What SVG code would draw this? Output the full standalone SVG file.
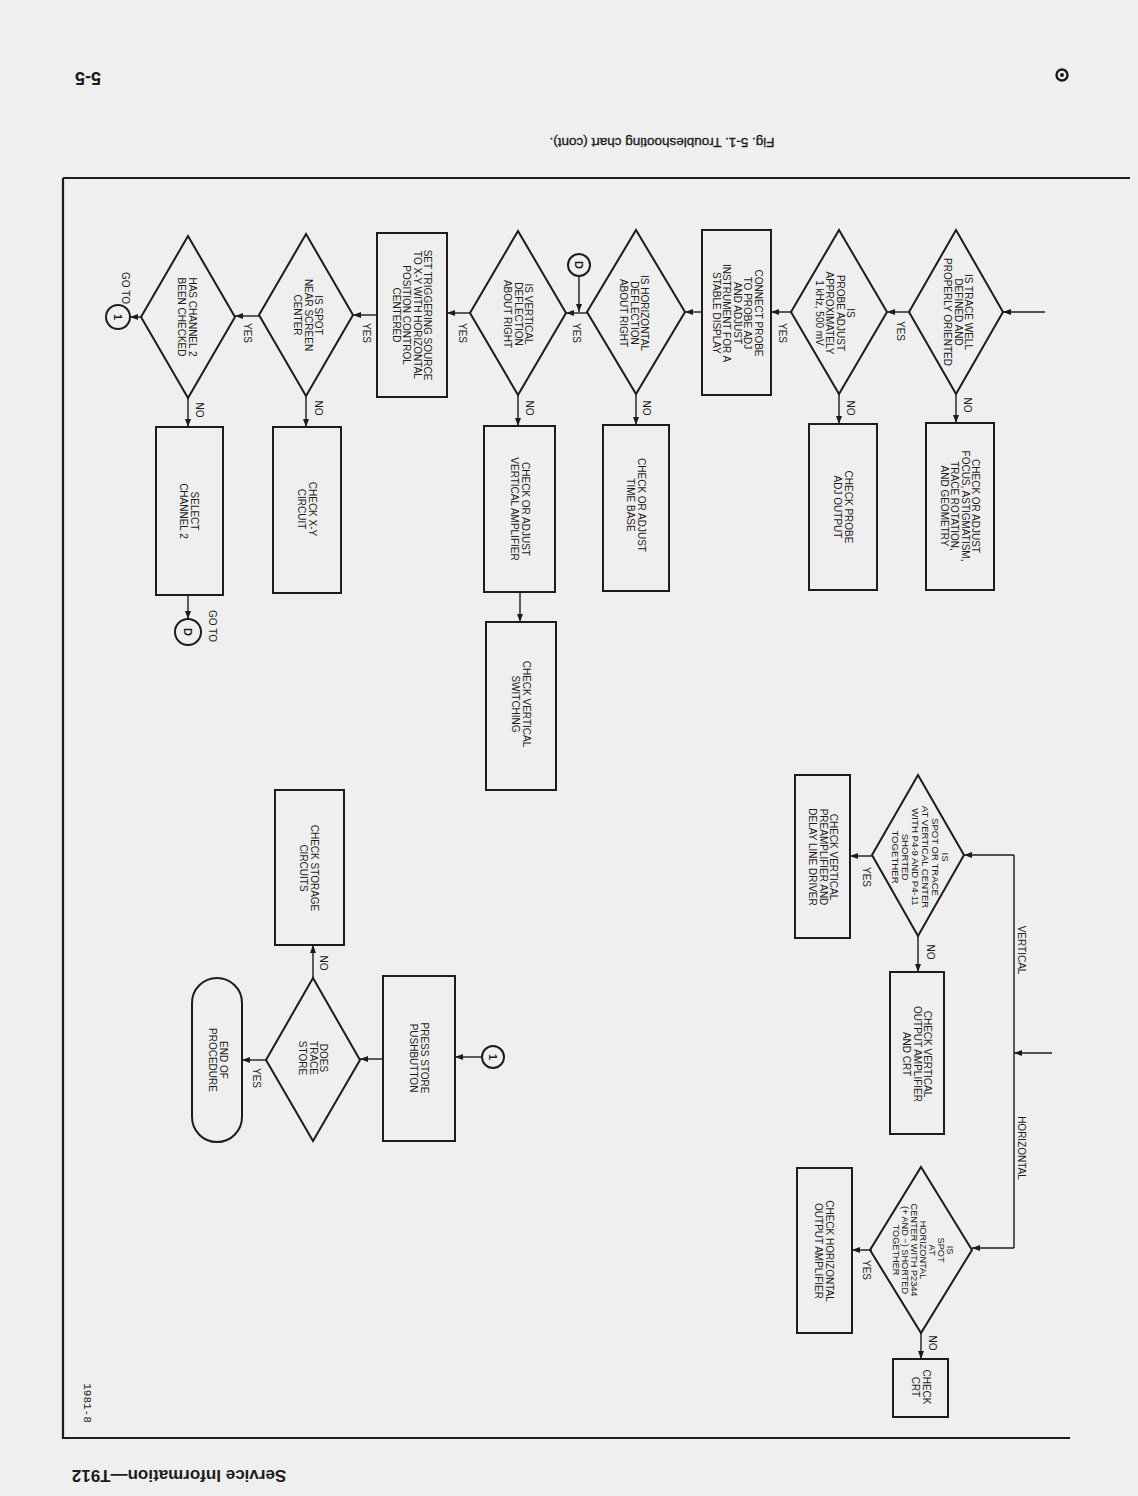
<svg xmlns="http://www.w3.org/2000/svg" width="1138" height="1496" viewBox="0 0 1138 1496">
<defs>
<style>
.s{fill:none;stroke:#1c1c1c;stroke-width:2}
.c{fill:none;stroke:#1c1c1c;stroke-width:1.4}
.t{font-family:"Liberation Sans",Arial,sans-serif;font-size:10px;fill:#1c1c1c;text-anchor:middle}
.l{font-family:"Liberation Sans",Arial,sans-serif;font-size:10px;fill:#1c1c1c;text-anchor:middle}
</style>
<marker id="a" markerWidth="8" markerHeight="6" refX="8" refY="3" orient="auto" markerUnits="userSpaceOnUse">
<path d="M0,0 L8,3 L0,6 z" fill="#1c1c1c"/>
</marker>
</defs>
<rect x="0" y="0" width="1138" height="1496" fill="#efefef"/>

<g id="page">
<path d="M63,178 L1130,178 M63,178 L63,1438 L1070,1438" fill="none" stroke="#1c1c1c" stroke-width="2.2"/>
<g transform="translate(88,78) rotate(180)"><text x="0" y="6" style="font-family:'Liberation Sans',Arial,sans-serif;font-size:18px;font-weight:bold;fill:#1c1c1c;text-anchor:middle">5-5</text></g>
<g transform="translate(662,143) rotate(180)"><text x="0" y="5" style="font-family:'Liberation Sans',Arial,sans-serif;font-size:13.5px;fill:#1c1c1c;text-anchor:middle;stroke:#1c1c1c;stroke-width:0.35">Fig. 5-1.  Troubleshooting chart (cont).</text></g>
<g transform="translate(179,1476) rotate(180)"><text x="0" y="6" style="font-family:'Liberation Sans',Arial,sans-serif;font-size:17px;font-weight:bold;fill:#1c1c1c;text-anchor:middle">Service Information—T912</text></g>
<g transform="translate(88,1403) rotate(90)"><text x="0" y="4" style="font-family:'Liberation Mono','Courier New',monospace;font-size:11px;fill:#1c1c1c;text-anchor:middle">1981-8</text></g>
<circle cx="1062" cy="75" r="5.5" fill="none" stroke="#1c1c1c" stroke-width="2.4"/>
<circle cx="1062" cy="75" r="2" fill="#1c1c1c"/>
</g>

<g id="connectors">
<path class="c" d="M1045,312 L1003,312" marker-end="url(#a)"/>
<path class="c" d="M956,394 L956,423" marker-end="url(#a)"/>
<path class="c" d="M909,312 L887,312" marker-end="url(#a)"/>
<path class="c" d="M839,394 L839,424" marker-end="url(#a)"/>
<path class="c" d="M791,312 L771,312" marker-end="url(#a)"/>
<path class="c" d="M702,312 L685,312" marker-end="url(#a)"/>
<path class="c" d="M636,394 L636,425" marker-end="url(#a)"/>
<path class="c" d="M587,313 L566,313" marker-end="url(#a)"/>
<path class="c" d="M579,276 L579,312" marker-end="url(#a)"/>
<path class="c" d="M518,395 L518,426" marker-end="url(#a)"/>
<path class="c" d="M520,592 L520,622" marker-end="url(#a)"/>
<path class="c" d="M470,313 L447,313" marker-end="url(#a)"/>
<path class="c" d="M377,315 L353,315" marker-end="url(#a)"/>
<path class="c" d="M306,396 L306,427" marker-end="url(#a)"/>
<path class="c" d="M259,316 L235,316" marker-end="url(#a)"/>
<path class="c" d="M188,398 L188,427" marker-end="url(#a)"/>
<path class="c" d="M188,595 L188,619" marker-end="url(#a)"/>
<path class="c" d="M141,317 L130,317" marker-end="url(#a)"/>
<path class="c" d="M1052,1053 L1014,1053" marker-end="url(#a)"/>
<path class="c" d="M1014,855 L1014,1248"/>
<path class="c" d="M1014,855 L964,855" marker-end="url(#a)"/>
<path class="c" d="M1014,1248 L972,1248" marker-end="url(#a)"/>
<path class="c" d="M872,856 L850,856" marker-end="url(#a)"/>
<path class="c" d="M918,936 L918,972" marker-end="url(#a)"/>
<path class="c" d="M872,1250 L852,1250" marker-end="url(#a)"/>
<path class="c" d="M921,1332 L921,1359" marker-end="url(#a)"/>
<path class="c" d="M482,1057 L455,1057" marker-end="url(#a)"/>
<path class="c" d="M383,1059 L360,1059" marker-end="url(#a)"/>
<path class="c" d="M313,978 L313,945" marker-end="url(#a)"/>
<path class="c" d="M266,1060 L242,1060" marker-end="url(#a)"/>
<g transform="translate(900,331) rotate(90)"><text class="l" y="3.5">YES</text></g>
<g transform="translate(782,333) rotate(90)"><text class="l" y="3.5">YES</text></g>
<g transform="translate(576,333) rotate(90)"><text class="l" y="3.5">YES</text></g>
<g transform="translate(462,333) rotate(90)"><text class="l" y="3.5">YES</text></g>
<g transform="translate(366,333) rotate(90)"><text class="l" y="3.5">YES</text></g>
<g transform="translate(247,333) rotate(90)"><text class="l" y="3.5">YES</text></g>
<g transform="translate(866,877) rotate(90)"><text class="l" y="3.5">YES</text></g>
<g transform="translate(866,1270) rotate(90)"><text class="l" y="3.5">YES</text></g>
<g transform="translate(256,1078) rotate(90)"><text class="l" y="3.5">YES</text></g>
<g transform="translate(967,405) rotate(90)"><text class="l" y="3.5">NO</text></g>
<g transform="translate(850,408) rotate(90)"><text class="l" y="3.5">NO</text></g>
<g transform="translate(646,408) rotate(90)"><text class="l" y="3.5">NO</text></g>
<g transform="translate(529,408) rotate(90)"><text class="l" y="3.5">NO</text></g>
<g transform="translate(318,408) rotate(90)"><text class="l" y="3.5">NO</text></g>
<g transform="translate(199,410) rotate(90)"><text class="l" y="3.5">NO</text></g>
<g transform="translate(930,952) rotate(90)"><text class="l" y="3.5">NO</text></g>
<g transform="translate(932,1343) rotate(90)"><text class="l" y="3.5">NO</text></g>
<g transform="translate(323,963) rotate(90)"><text class="l" y="3.5">NO</text></g>
<g transform="translate(1021,950) rotate(90)"><text class="l" y="3.5">VERTICAL</text></g>
<g transform="translate(1021,1148) rotate(90)"><text class="l" y="3.5">HORIZONTAL</text></g>
</g>

<g id="d1">
<polygon class="s" points="956,230 1003,312 956,394 909,312"/>
<g transform="translate(958,312) rotate(90)"><text class="t"><tspan x="0" y="-7">IS TRACE WELL</tspan><tspan x="0" y="3.5">DEFINED AND</tspan><tspan x="0" y="14">PROPERLY ORIENTED</tspan></text></g>
</g>
<g id="b1">
<rect class="s" x="926" y="423" width="68" height="167"/>
<g transform="translate(960,506) rotate(90)"><text class="t"><tspan x="0" y="-12.25">CHECK OR ADJUST</tspan><tspan x="0" y="-1.75">FOCUS, ASTIGMATISM,</tspan><tspan x="0" y="8.75">TRACE ROTATION,</tspan><tspan x="0" y="19.25">AND GEOMETRY</tspan></text></g>
</g>
<g id="d2">
<polygon class="s" points="839,230 887,312 839,394 791,312"/>
<g transform="translate(835,313) rotate(90)"><text class="t"><tspan x="0" y="-12.25">IS</tspan><tspan x="0" y="-1.75">PROBE ADJUST</tspan><tspan x="0" y="8.75">APPROXIMATELY</tspan><tspan x="0" y="19.25">1 kHz, 500 mV</tspan></text></g>
</g>
<g id="b2">
<rect class="s" x="809" y="424" width="68" height="166"/>
<g transform="translate(843,507) rotate(90)"><text class="t"><tspan x="0" y="-1.75">CHECK PROBE</tspan><tspan x="0" y="8.75">ADJ OUTPUT</tspan></text></g>
</g>
<g id="b3">
<rect class="s" x="702" y="230" width="69" height="165"/>
<g transform="translate(737,313) rotate(90)"><text class="t"><tspan x="0" y="-17.5">CONNECT PROBE</tspan><tspan x="0" y="-7">TO PROBE ADJ</tspan><tspan x="0" y="3.5">AND ADJUST</tspan><tspan x="0" y="14">INSTRUMENT FOR A</tspan><tspan x="0" y="24.5">STABLE DISPLAY</tspan></text></g>
</g>
<g id="d3">
<polygon class="s" points="636,230 685,312 636,394 587,312"/>
<g transform="translate(634,313) rotate(90)"><text class="t"><tspan x="0" y="-7">IS HORIZONTAL</tspan><tspan x="0" y="3.5">DEFLECTION</tspan><tspan x="0" y="14">ABOUT RIGHT</tspan></text></g>
</g>
<g id="b4">
<rect class="s" x="603" y="425" width="66" height="166"/>
<g transform="translate(636,505) rotate(90)"><text class="t"><tspan x="0" y="-1.75">CHECK OR ADJUST</tspan><tspan x="0" y="8.75">TIME BASE</tspan></text></g>
</g>
<g id="cD1">
<circle class="s" cx="579" cy="265" r="11"/>
<g transform="translate(579,265) rotate(90)"><text class="t" y="4" style="font-weight:bold;font-size:11px">D</text></g>
</g>
<g id="d4">
<polygon class="s" points="518,231 566,313 518,395 470,313"/>
<g transform="translate(518,314) rotate(90)"><text class="t"><tspan x="0" y="-7">IS VERTICAL</tspan><tspan x="0" y="3.5">DEFLECTION</tspan><tspan x="0" y="14">ABOUT RIGHT</tspan></text></g>
</g>
<g id="b5">
<rect class="s" x="484" y="426" width="71" height="166"/>
<g transform="translate(520,509) rotate(90)"><text class="t"><tspan x="0" y="-1.75">CHECK OR ADJUST</tspan><tspan x="0" y="8.75">VERTICAL AMPLIFIER</tspan></text></g>
</g>
<g id="b6">
<rect class="s" x="486" y="622" width="70" height="168"/>
<g transform="translate(521,704) rotate(90)"><text class="t"><tspan x="0" y="-1.75">CHECK VERTICAL</tspan><tspan x="0" y="8.75">SWITCHING</tspan></text></g>
</g>
<g id="b7">
<rect class="s" x="377" y="233" width="70" height="164"/>
<g transform="translate(412,315) rotate(90)"><text class="t"><tspan x="0" y="-12.25">SET TRIGGERING SOURCE</tspan><tspan x="0" y="-1.75">TO X-Y WITH HORIZONTAL</tspan><tspan x="0" y="8.75">POSITION CONTROL</tspan><tspan x="0" y="19.25">CENTERED</tspan></text></g>
</g>
<g id="d5">
<polygon class="s" points="306,234 353,315 306,396 259,315"/>
<g transform="translate(308,315) rotate(90)"><text class="t"><tspan x="0" y="-7">IS SPOT</tspan><tspan x="0" y="3.5">NEAR SCREEN</tspan><tspan x="0" y="14">CENTER</tspan></text></g>
</g>
<g id="b8">
<rect class="s" x="273" y="427" width="68" height="166"/>
<g transform="translate(307,509) rotate(90)"><text class="t"><tspan x="0" y="-1.75">CHECK X-Y</tspan><tspan x="0" y="8.75">CIRCUIT</tspan></text></g>
</g>
<g id="d6">
<polygon class="s" points="188,236 235,317 188,398 141,317"/>
<g transform="translate(187,317) rotate(90)"><text class="t"><tspan x="0" y="-1.75">HAS CHANNEL 2</tspan><tspan x="0" y="8.75">BEEN CHECKED</tspan></text></g>
</g>
<g id="b9">
<rect class="s" x="156" y="427" width="67" height="168"/>
<g transform="translate(189,511) rotate(90)"><text class="t"><tspan x="0" y="-1.75">SELECT</tspan><tspan x="0" y="8.75">CHANNEL 2</tspan></text></g>
</g>
<g id="cD2">
<circle class="s" cx="188" cy="632" r="13"/>
<g transform="translate(188,632) rotate(90)"><text class="t" y="4" style="font-weight:bold;font-size:11px">D</text></g>
<g transform="translate(212,626) rotate(90)"><text class="t" y="3.5">GO TO</text></g>
</g>
<g id="c1a">
<circle class="s" cx="118" cy="317" r="12"/>
<g transform="translate(118,317) rotate(90)"><text class="t" y="4" style="font-weight:bold;font-size:11px">1</text></g>
<g transform="translate(125,288) rotate(90)"><text class="t" y="3.5">GO TO</text></g>
</g>
<g id="d7">
<polygon class="s" points="918,775 964,855 918,936 872,855"/>
<g transform="translate(920,857) rotate(90)"><text class="t" style="font-size:9.6px"><tspan x="0" y="-21.5">IS</tspan><tspan x="0" y="-11.5">SPOT OR TRACE</tspan><tspan x="0" y="-1.5">AT VERTICAL CENTER</tspan><tspan x="0" y="8.5">WITH P4-9 AND P4-11</tspan><tspan x="0" y="18.5">SHORTED</tspan><tspan x="0" y="28.5">TOGETHER</tspan></text></g>
</g>
<g id="b10">
<rect class="s" x="795" y="775" width="55" height="163"/>
<g transform="translate(823,857) rotate(90)"><text class="t"><tspan x="0" y="-7">CHECK VERTICAL</tspan><tspan x="0" y="3.5">PREAMPLIFIER AND</tspan><tspan x="0" y="14">DELAY LINE DRIVER</tspan></text></g>
</g>
<g id="b11">
<rect class="s" x="890" y="972" width="54" height="162"/>
<g transform="translate(917,1054) rotate(90)"><text class="t"><tspan x="0" y="-7">CHECK VERTICAL</tspan><tspan x="0" y="3.5">OUTPUT AMPLIFIER</tspan><tspan x="0" y="14">AND CRT</tspan></text></g>
</g>
<g id="d8">
<polygon class="s" points="921,1167 972,1250 921,1333 870,1250"/>
<g transform="translate(923,1250) rotate(90)"><text class="t" style="font-size:9.2px"><tspan x="0" y="-23.5">IS</tspan><tspan x="0" y="-14.5">SPOT</tspan><tspan x="0" y="-5.5">AT</tspan><tspan x="0" y="3.5">HORIZONTAL</tspan><tspan x="0" y="12.5">CENTER WITH P2344</tspan><tspan x="0" y="21.5">(+ AND −) SHORTED</tspan><tspan x="0" y="30.5">TOGETHER</tspan></text></g>
</g>
<g id="b12">
<rect class="s" x="797" y="1168" width="55" height="165"/>
<g transform="translate(824,1251) rotate(90)"><text class="t"><tspan x="0" y="-1.75">CHECK HORIZONTAL</tspan><tspan x="0" y="8.75">OUTPUT AMPLIFIER</tspan></text></g>
</g>
<g id="b13">
<rect class="s" x="893" y="1359" width="55" height="58"/>
<g transform="translate(921,1387) rotate(90)"><text class="t"><tspan x="0" y="-1.75">CHECK</tspan><tspan x="0" y="8.75">CRT</tspan></text></g>
</g>
<g id="c1b">
<circle class="s" cx="493" cy="1057" r="11"/>
<g transform="translate(493,1057) rotate(90)"><text class="t" y="4" style="font-weight:bold;font-size:11px">1</text></g>
</g>
<g id="b14">
<rect class="s" x="383" y="976" width="72" height="165"/>
<g transform="translate(419,1058) rotate(90)"><text class="t"><tspan x="0" y="-1.75">PRESS STORE</tspan><tspan x="0" y="8.75">PUSHBUTTON</tspan></text></g>
</g>
<g id="d9">
<polygon class="s" points="313,978 360,1060 313,1141 266,1060"/>
<g transform="translate(313,1058) rotate(90)"><text class="t"><tspan x="0" y="-7">DOES</tspan><tspan x="0" y="3.5">TRACE</tspan><tspan x="0" y="14">STORE</tspan></text></g>
</g>
<g id="b15">
<rect class="s" x="275" y="790" width="69" height="155"/>
<g transform="translate(309,868) rotate(90)"><text class="t"><tspan x="0" y="-1.75">CHECK STORAGE</tspan><tspan x="0" y="8.75">CIRCUITS</tspan></text></g>
</g>
<g id="t1">
<rect class="s" x="192" y="978" width="50" height="164" rx="25" ry="25"/>
<g transform="translate(218,1060) rotate(90)"><text class="t"><tspan x="0" y="-1.75">END OF</tspan><tspan x="0" y="8.75">PROCEDURE</tspan></text></g>
</g>
</svg>
